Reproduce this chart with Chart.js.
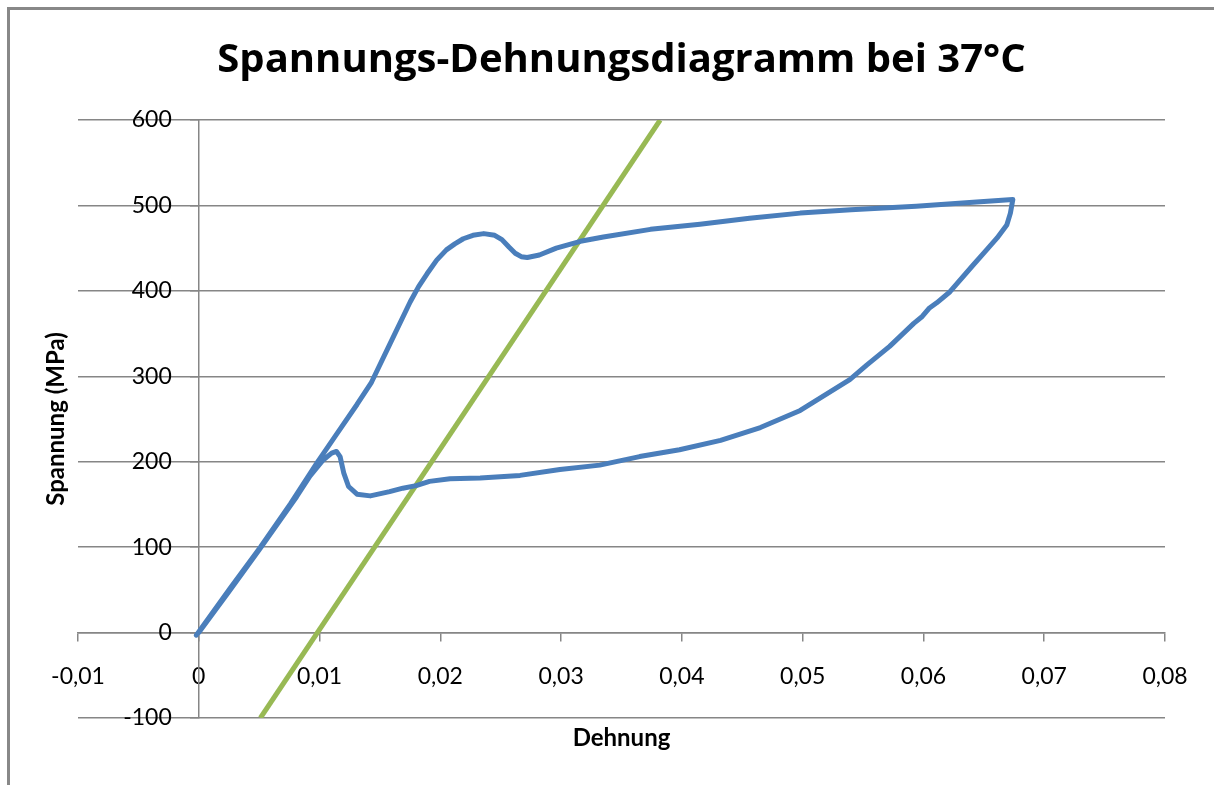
<!DOCTYPE html>
<html lang="de">
<head>
<meta charset="utf-8">
<title>Spannungs-Dehnungsdiagramm bei 37°C</title>
<script src="https://cdn.jsdelivr.net/npm/chart.js@4.4.1/dist/chart.umd.min.js"></script>
<style>
  html, body { margin: 0; padding: 0; background: #fff; overflow: hidden; }
  #frame { position: absolute; left: 7px; top: 7px; width: 1300px; height: 900px; border: 3px solid #888; }
  #wrap { position: absolute; left: 0; top: 0; width: 1214px; height: 785px; }
</style>
</head>
<body>
<div id="frame"></div>
<div id="wrap"><canvas id="stressStrainChart"></canvas></div>
<script>
// --- Texte ---
const chartTitle = 'Spannungs-Dehnungsdiagramm bei 37°C';
const xAxisTitle = 'Dehnung';
const yAxisTitle = 'Spannung (MPa)';

// --- Achsen ---
const xTickValues = [-0.01, 0, 0.01, 0.02, 0.03, 0.04, 0.05, 0.06, 0.07, 0.08];
const xTickLabels = ['-0,01', '0', '0,01', '0,02', '0,03', '0,04', '0,05', '0,06', '0,07', '0,08'];
const yTickValues = [-100, 0, 100, 200, 300, 400, 500, 600];
const yTickLabels = ['-100', '0', '100', '200', '300', '400', '500', '600'];

// --- Messkurve: Belastung, Plateau, Entlastung (Dehnung / Spannung in MPa) ---
const curveStrain = [
  -0.0002, 0.0026, 0.0051, 0.0076, 0.0098, 0.0114, 0.0131, 0.0143, 0.0158, 0.0175,
  0.0182, 0.0189, 0.0197, 0.0205, 0.0212, 0.0219, 0.0227, 0.0236, 0.0245, 0.0251,
  0.0257, 0.0262, 0.0267, 0.0272, 0.0282, 0.0296, 0.0316, 0.0335, 0.0374, 0.0415,
  0.0456, 0.0498, 0.054, 0.0594, 0.0644, 0.0674,
  0.0672, 0.0669, 0.0661, 0.0651, 0.0641, 0.0622, 0.0611, 0.0605, 0.0599, 0.0592,
  0.0572, 0.0553, 0.0539, 0.0498, 0.0465, 0.0432, 0.0398, 0.0365, 0.0332, 0.0299,
  0.0266, 0.0233, 0.0208, 0.0191, 0.018, 0.0169, 0.0158, 0.0142, 0.0131, 0.0124,
  0.012, 0.0117, 0.0114, 0.011, 0.0103, 0.0092, 0.0081, 0.005, 0.0025, 0
];
const curveStress = [
  -3, 52, 100, 151, 199, 232, 267, 293, 337, 387,
  405, 420, 436, 448, 455, 461, 465, 467, 465, 460,
  451, 444, 440, 439, 442, 450, 458, 463, 472, 478,
  485, 491, 495, 499, 504, 507,
  491, 477, 462, 446, 430, 399, 386, 380, 370, 362,
  335, 313, 296, 260, 240, 225, 214, 206, 196, 191,
  184, 181, 180, 177, 172, 169, 165, 160, 162, 171,
  187, 206, 212, 210, 202, 183, 159, 97, 48, 0
];

// --- Gerade ---
const lineStrain = [0.0051, 0.0382];
const lineStress = [-100, 600];

const axisGray = '#868686';
const tickFont = { size: 23 };
const axisTitleFont = { size: 24, weight: 'bold' };

function toPoints(xs, ys) {
  return xs.map((x, i) => ({ x: x, y: ys[i] }));
}

function buildChart() {
  Chart.defaults.font.family = 'Lato, "Open Sans", sans-serif';
  Chart.defaults.color = '#000';

  const ctx = document.getElementById('stressStrainChart');
  new Chart(ctx, {
    type: 'scatter',
    data: {
      datasets: [
        {
          label: 'Messkurve',
          data: toPoints(curveStrain, curveStress),
          showLine: true,
          borderColor: '#4A7EBB',
          backgroundColor: '#4A7EBB',
          borderWidth: 5,
          pointRadius: 0,
          borderJoinStyle: 'round',
          borderCapStyle: 'round',
          clip: 0,
          xAxisID: 'x',
          yAxisID: 'y'
        },
        {
          label: 'Gerade',
          data: toPoints(lineStrain, lineStress),
          showLine: true,
          borderColor: '#98B954',
          backgroundColor: '#98B954',
          borderWidth: 5,
          pointRadius: 0,
          clip: 0,
          xAxisID: 'x',
          yAxisID: 'y'
        }
      ]
    },
    options: {
      responsive: true,
      maintainAspectRatio: false,
      animation: false,
      layout: { padding: { top: 0, left: 0, right: 49, bottom: 0 } },
      plugins: {
        legend: { display: false },
        tooltip: { enabled: false },
        title: {
          display: true,
          text: chartTitle,
          fullSize: false,
          color: '#000',
          font: { family: '"Open Sans", Lato, sans-serif', size: 40, weight: 'bold' },
          padding: { top: 37, bottom: 35 }
        }
      },
      scales: {
        x: {
          type: 'linear',
          axis: 'x',
          min: -0.01,
          max: 0.08,
          position: { y: 0 },
          afterBuildTicks: s => { s.ticks = xTickValues.map(v => ({ value: v })); },
          afterFit: s => { s.height = 0; },
          grid: { drawOnChartArea: false, drawTicks: true, tickLength: 8, color: axisGray, lineWidth: 1.5 },
          border: { display: true, color: axisGray, width: 1.5 },
          ticks: {
            padding: 22,
            autoSkip: false,
            maxRotation: 0,
            color: '#000',
            font: tickFont,
            callback: (v, i) => xTickLabels[i]
          }
        },
        // y axis line, grid and tick marks at x = 0
        y: {
          type: 'linear',
          axis: 'y',
          min: -100,
          max: 600,
          position: { x: 0 },
          afterBuildTicks: s => { s.ticks = yTickValues.map(v => ({ value: v })); },
          afterFit: s => { s.width = 0; },
          grid: { color: axisGray, lineWidth: 1.5, drawTicks: true, tickLength: 8 },
          border: { display: true, color: axisGray, width: 1.5 },
          ticks: { display: false }
        },
        // y tick labels, right-aligned a little left of the axis line
        yLabels: {
          type: 'linear',
          axis: 'y',
          min: -100,
          max: 600,
          position: { x: -0.00224 },
          afterBuildTicks: s => { s.ticks = yTickValues.map(v => ({ value: v })); },
          afterFit: s => { s.width = 0; },
          grid: { display: false, drawTicks: false },
          border: { display: false },
          ticks: {
            autoSkip: false,
            color: '#000',
            font: tickFont,
            callback: (v, i) => yTickLabels[i]
          }
        },
        xTitle: {
          type: 'linear',
          axis: 'x',
          position: 'bottom',
          grid: { display: false, drawTicks: false },
          border: { display: false },
          ticks: { display: false },
          afterFit: s => { s.height = 67; },
          title: {
            display: true,
            text: xAxisTitle,
            color: '#000',
            font: axisTitleFont,
            padding: { top: 6, bottom: 32 }
          }
        },
        yTitle: {
          type: 'linear',
          axis: 'y',
          position: 'left',
          grid: { display: false, drawTicks: false },
          border: { display: false },
          ticks: { display: false },
          afterFit: s => { s.width = 78; },
          title: {
            display: true,
            text: yAxisTitle,
            color: '#000',
            font: axisTitleFont,
            padding: { top: 42, bottom: 7 }
          }
        }
      }
    }
  });
}

Promise.all([
  document.fonts.load('bold 40px "Open Sans"'),
  document.fonts.load('bold 24px Lato'),
  document.fonts.load('23px Lato')
]).then(buildChart, buildChart);
</script>
</body>
</html>
